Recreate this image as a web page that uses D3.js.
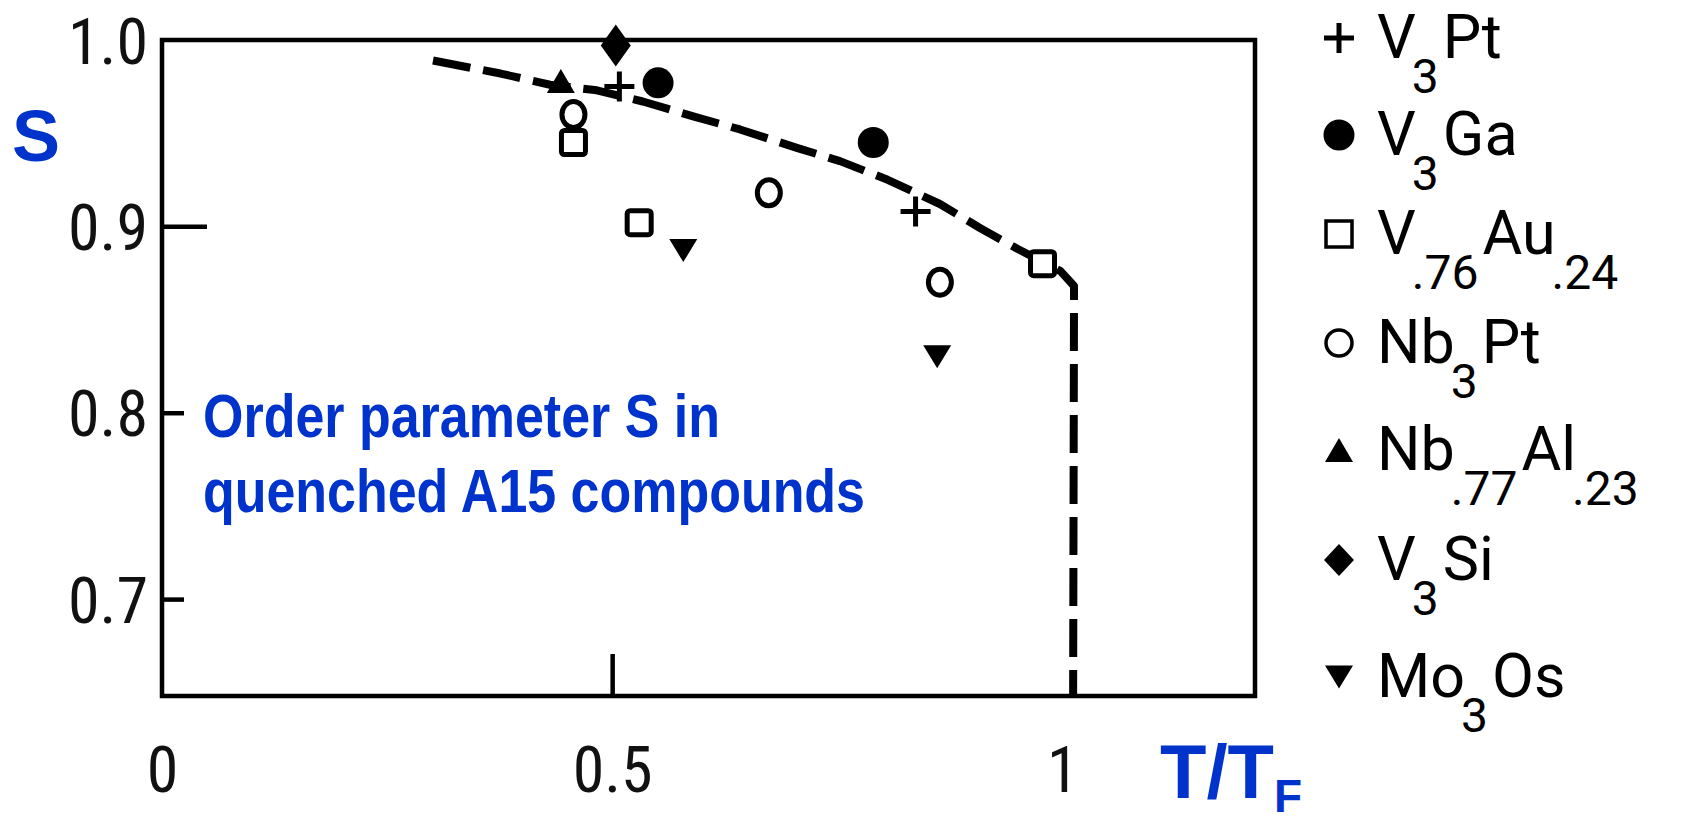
<!DOCTYPE html>
<html>
<head>
<meta charset="utf-8">
<script src="https://cdn.jsdelivr.net/npm/d3@7"></script>
<style>
  html, body { margin: 0; padding: 0; background: #ffffff; }
  svg { display: block; }
</style>
</head>
<body>
<svg id="chart" width="1691" height="825"></svg>
<script>
// ---------------- data ----------------
const xTicks = [0, 0.5, 1];
const xTickLabels = ["0", "0.5", "1"];
const yTicks = [1.0, 0.9, 0.8, 0.7];
const yTickLabels = ["1.0", "0.9", "0.8", "0.7"];

// measured points [T/TF, S]
const v3pt     = [[0.508, 0.975], [0.837, 0.908]];
const v3ga     = [[0.551, 0.977], [0.790, 0.945]];
const v76au24  = [[0.457, 0.945], [0.530, 0.902], [0.978, 0.880]];
const nb3pt    = [[0.457, 0.960], [0.674, 0.918], [0.864, 0.870]];
const nb77al23 = [[0.443, 0.978]];
const v3si     = [[0.504, 0.997]];
const mo3os    = [[0.579, 0.887], [0.861, 0.830]];

// dashed guide curve
const curveX = [0.301, 0.376, 0.431, 0.483, 0.534, 0.590, 0.642, 0.706, 0.753, 0.806, 0.864, 0.909, 0.950, 0.998, 1.013, 1.012];
const curveY = [0.989, 0.982, 0.976, 0.973, 0.967, 0.959, 0.952, 0.942, 0.935, 0.925, 0.912, 0.899, 0.888, 0.876, 0.868, 0.648];

// legend: series name parts, [text, isSubscript]
const seriesNames = [
  [["V", 0], ["3", 1], ["Pt", 0]],
  [["V", 0], ["3", 1], ["Ga", 0]],
  [["V", 0], [".76", 1], ["Au", 0], [".24", 1]],
  [["Nb", 0], ["3", 1], ["Pt", 0]],
  [["Nb", 0], [".77", 1], ["Al", 0], [".23", 1]],
  [["V", 0], ["3", 1], ["Si", 0]],
  [["Mo", 0], ["3", 1], ["Os", 0]]
];
const seriesSymbols = ["plus", "disc", "square", "circle", "triUp", "diamond", "triDown"];
const seriesData = [v3pt, v3ga, v76au24, nb3pt, nb77al23, v3si, mo3os];

// ---------------- layout ----------------
const blue = "#0033cc";
const svg = d3.select("#chart");
const x = d3.scaleLinear().domain([0, 1.214]).range([162, 1255]);
const y = d3.scaleLinear().domain([0.648, 1.0]).range([696, 40]);

// frame
svg.append("rect")
  .attr("x", x(0)).attr("y", y(1.0))
  .attr("width", x(1.214) - x(0)).attr("height", y(0.648) - y(1.0))
  .attr("fill", "none").attr("stroke", "#000").attr("stroke-width", 4.5);

const tickFont = "'Liberation Sans Narrow', 'Roboto Condensed', 'Liberation Sans', Arial, sans-serif";

// y axis
const yAxis = d3.axisLeft(y).tickValues(yTicks)
  .tickFormat((d, i) => yTickLabels[i]).tickSizeInner(-22).tickSizeOuter(0).tickPadding(14);
const gy = svg.append("g").attr("transform", `translate(${x(0)},0)`).call(yAxis);
gy.select(".domain").remove();
gy.selectAll(".tick line").attr("stroke", "#000").attr("stroke-width", 4.5)
  .attr("x2", d => d === 1.0 ? 0 : (d === 0.9 ? 45 : 22));
gy.selectAll(".tick text").attr("font-family", tickFont).attr("font-size", 64)
  .attr("fill", "#111").attr("dy", "0.36em");

// x axis
const xAxis = d3.axisBottom(x).tickValues(xTicks)
  .tickFormat((d, i) => xTickLabels[i]).tickSizeInner(-40).tickSizeOuter(0).tickPadding(0);
const gx = svg.append("g").attr("transform", `translate(0,${y(0.648)})`).call(xAxis);
gx.select(".domain").remove();
gx.selectAll(".tick line").attr("stroke", "#000").attr("stroke-width", 4.5)
  .attr("y2", d => d === 0.5 ? -42 : 0);
gx.selectAll(".tick text").attr("font-family", tickFont).attr("font-size", 64)
  .attr("fill", "#111").attr("y", 96).attr("dy", 0);

// dashed curve
const curvePts = curveX.map((cx, i) => [cx, curveY[i]]);
svg.append("path")
  .datum(curvePts)
  .attr("d", d3.line().x(d => x(d[0])).y(d => y(d[1])))
  .attr("fill", "none").attr("stroke", "#000").attr("stroke-width", 8)
  .attr("stroke-dasharray", "38,13").attr("stroke-linejoin", "round");

// markers
function drawMarker(g, type, cx, cy, legend) {
  const sw = legend ? 3.5 : 5;
  if (type === "plus") {
    const h = 15;
    g.append("path").attr("d", `M${cx - h},${cy}H${cx + h}M${cx},${cy - h}V${cy + h}`)
      .attr("stroke", "#000").attr("stroke-width", 5).attr("fill", "none");
  } else if (type === "disc") {
    g.append("circle").attr("cx", cx).attr("cy", cy).attr("r", 15.5).attr("fill", "#000");
  } else if (type === "square") {
    const h = legend ? 13 : 12;
    g.append("rect").attr("x", cx - h).attr("y", cy - h).attr("width", 2 * h).attr("height", 2 * h)
      .attr("fill", "#fff").attr("stroke", "#000").attr("stroke-width", sw).attr("rx", legend ? 0 : 3);
  } else if (type === "circle") {
    g.append("ellipse").attr("cx", cx).attr("cy", cy)
      .attr("rx", legend ? 13 : 11.5).attr("ry", 13)
      .attr("fill", "#fff").attr("stroke", "#000").attr("stroke-width", sw);
  } else if (type === "triUp") {
    const w = 14, h = 12;
    g.append("path").attr("d", `M${cx},${cy - h}L${cx + w},${cy + h}L${cx - w},${cy + h}Z`).attr("fill", "#000");
  } else if (type === "triDown") {
    const w = 14, h = 11.5;
    g.append("path").attr("d", `M${cx - w},${cy - h}L${cx + w},${cy - h}L${cx},${cy + h}Z`).attr("fill", "#000");
  } else if (type === "diamond") {
    const w = 15, h = legend ? 16 : 21;
    g.append("path").attr("d", `M${cx},${cy - h}L${cx + w},${cy}L${cx},${cy + h}L${cx - w},${cy}Z`).attr("fill", "#000");
  }
}

const gm = svg.append("g");
seriesData.forEach((arr, si) => {
  arr.forEach(d => drawMarker(gm, seriesSymbols[si], x(d[0]), y(d[1]), false));
});

// legend
const legendBase = [58, 155, 254, 363, 470, 580, 697];
const legendFont = "Roboto, 'Liberation Sans', Arial, sans-serif";
const gl = svg.append("g");
seriesNames.forEach((parts, i) => {
  const b = legendBase[i];
  drawMarker(gl, seriesSymbols[i], 1339, b - 20, true);
  const t = gl.append("text").attr("x", 1377).attr("y", b)
    .attr("font-family", legendFont).attr("font-size", 61).attr("fill", "#000");
  let sub = false;
  parts.forEach(p => {
    const ts = t.append("tspan").text(p[0]);
    if (p[1] && !sub) { ts.attr("dy", 35).attr("font-size", 48).attr("dx", -4); sub = true; }
    else if (!p[1] && sub) { ts.attr("dy", -35).attr("dx", 4); sub = false; }
  });
});

// axis titles
const titleFont = "'Liberation Sans', Arial, sans-serif";
svg.append("text").attr("x", 12).attr("y", 161).text("S")
  .attr("font-family", titleFont).attr("font-weight", "bold").attr("font-size", 72).attr("fill", blue);
const tt = svg.append("text").attr("x", 1160).attr("y", 798)
  .attr("font-family", titleFont).attr("font-weight", "bold").attr("font-size", 76).attr("fill", blue);
tt.append("tspan").text("T/T");
tt.append("tspan").text("F").attr("font-size", 46).attr("dy", 14).attr("dx", 0);

// annotation
svg.append("text").attr("x", 203).attr("y", 437).text("Order parameter S in")
  .attr("font-family", titleFont).attr("font-weight", "bold").attr("font-size", 61)
  .attr("fill", blue).attr("textLength", 517).attr("lengthAdjust", "spacingAndGlyphs");
svg.append("text").attr("x", 203).attr("y", 512).text("quenched A15 compounds")
  .attr("font-family", titleFont).attr("font-weight", "bold").attr("font-size", 61)
  .attr("fill", blue).attr("textLength", 662).attr("lengthAdjust", "spacingAndGlyphs");
</script>
</body>
</html>
